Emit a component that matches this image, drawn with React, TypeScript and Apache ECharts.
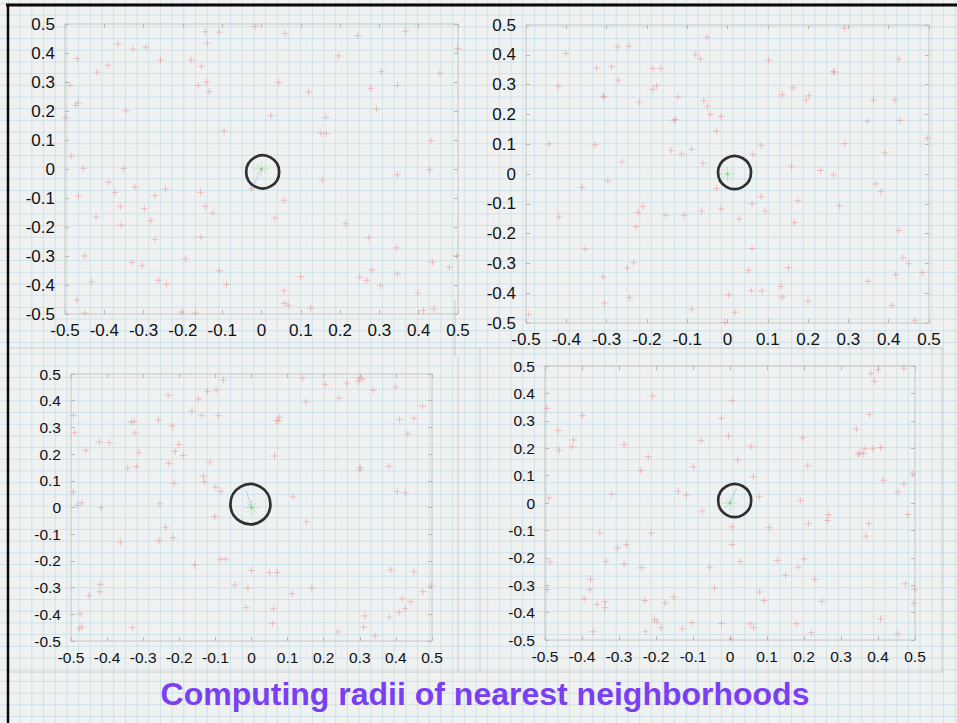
import React, { useEffect, useRef } from "react";
import * as echarts from "echarts";

// ---------- data ----------
const tickValues = [-0.5, -0.4, -0.3, -0.2, -0.1, 0, 0.1, 0.2, 0.3, 0.4, 0.5];
const titleText = "Computing radii of nearest neighborhoods";

const panel1Points: number[][] = [
  [-0.143, 0.473], [-0.108, 0.472], [-0.016, 0.492], [0.06, 0.467], [0.245, 0.46], [0.367, 0.475],
  [0.499, 0.415], [-0.138, 0.434], [-0.365, 0.432], [-0.327, 0.414], [-0.294, 0.42], [-0.468, 0.381],
  [-0.257, 0.376], [-0.179, 0.376], [0.196, 0.39], [-0.419, 0.334], [-0.39, 0.358], [-0.153, 0.354],
  [-0.14, 0.3], [-0.161, 0.288], [-0.133, 0.267], [0.044, 0.299], [0.12, 0.266], [0.305, 0.336],
  [0.278, 0.278], [0.346, 0.288], [0.454, 0.33], [-0.487, 0.288], [-0.473, 0.219], [-0.467, 0.228],
  [-0.345, 0.201], [-0.498, 0.177], [0.293, 0.207], [0.024, 0.184], [0.164, 0.178], [0.151, 0.124],
  [0.165, 0.122], [-0.095, 0.131], [0.431, 0.098], [-0.484, 0.044], [-0.454, 0.002], [-0.351, 0.002],
  [0.428, -0.002], [0.346, -0.02], [0.155, -0.038], [-0.389, -0.045], [-0.373, -0.081], [-0.466, -0.094],
  [-0.322, -0.062], [-0.244, -0.069], [-0.271, -0.091], [-0.155, -0.081], [-0.025, -0.068], [0.058, -0.108],
  [-0.359, -0.129], [-0.298, -0.137], [-0.143, -0.129], [-0.124, -0.152], [-0.421, -0.165], [-0.357, -0.193],
  [-0.282, -0.178], [0.034, -0.169], [0.214, -0.189], [-0.271, -0.243], [-0.154, -0.235], [0.273, -0.237],
  [0.344, -0.272], [-0.45, -0.3], [-0.193, -0.31], [0.497, -0.299], [-0.329, -0.322], [-0.303, -0.333],
  [0.435, -0.321], [0.478, -0.339], [-0.107, -0.351], [0.281, -0.348], [0.346, -0.362], [0.1, -0.371],
  [0.25, -0.373], [0.267, -0.384], [-0.432, -0.389], [-0.262, -0.384], [-0.242, -0.397], [-0.089, -0.398],
  [0.303, -0.402], [0.058, -0.42], [0.398, -0.428], [-0.47, -0.452], [0.058, -0.463], [0.068, -0.47],
  [0.125, -0.48], [0.412, -0.488], [0.439, -0.483], [-0.449, -0.497], [-0.204, -0.493], [-0.168, -0.497],
];

const panel2Points: number[][] = [
  [-0.051, 0.459], [0.29, 0.489], [-0.401, 0.404], [-0.272, 0.426], [-0.244, 0.429], [-0.079, 0.4],
  [-0.067, 0.386], [0.102, 0.382], [0.425, 0.386], [-0.325, 0.356], [-0.288, 0.36], [-0.185, 0.354],
  [-0.165, 0.354], [0.263, 0.344], [0.265, 0.341], [-0.271, 0.315], [-0.42, 0.295], [-0.308, 0.261],
  [-0.307, 0.258], [-0.185, 0.284], [-0.176, 0.296], [-0.123, 0.259], [-0.219, 0.241], [-0.059, 0.246],
  [-0.05, 0.227], [0.163, 0.289], [0.136, 0.266], [0.195, 0.248], [0.202, 0.263], [0.362, 0.248],
  [0.415, 0.249], [-0.043, 0.2], [-0.016, 0.193], [-0.133, 0.18], [-0.129, 0.183], [0.347, 0.177],
  [0.428, 0.179], [-0.027, 0.144], [-0.442, 0.101], [-0.329, 0.098], [0.083, 0.096], [0.291, 0.102],
  [-0.14, 0.079], [-0.089, 0.083], [-0.114, 0.067], [0.063, 0.066], [0.391, 0.071], [-0.262, 0.04],
  [-0.061, 0.036], [0.159, 0.026], [0.231, 0.012], [0.263, -0.003], [-0.297, -0.023], [-0.361, -0.045],
  [-0.027, -0.049], [0.368, -0.033], [0.381, -0.059], [-0.21, -0.109], [0.061, -0.1], [0.083, -0.076],
  [0.175, -0.089], [0.278, -0.107], [-0.222, -0.129], [-0.153, -0.139], [-0.108, -0.139], [-0.064, -0.124],
  [-0.016, -0.117], [0.094, -0.124], [0.029, -0.151], [-0.418, -0.144], [0.166, -0.163], [-0.227, -0.177],
  [0.425, -0.189], [-0.353, -0.251], [0.061, -0.25], [0.435, -0.282], [0.45, -0.301], [-0.233, -0.298],
  [-0.249, -0.315], [0.052, -0.323], [0.151, -0.314], [0.484, -0.331], [0.417, -0.338], [-0.309, -0.345],
  [0.349, -0.36], [0.133, -0.377], [0.059, -0.392], [0.086, -0.393], [0.003, -0.405], [0.137, -0.413],
  [-0.243, -0.415], [-0.305, -0.433], [0.2, -0.427], [0.409, -0.441], [-0.089, -0.454], [0.019, -0.464],
  [-0.493, -0.471], [-0.006, -0.498], [0.465, -0.491], [0.496, 0.12],
];

const panel3Points: number[][] = [
  [-0.078, 0.478], [0.142, 0.485], [0.3, 0.485], [0.308, 0.481], [0.296, 0.473], [0.204, 0.461],
  [0.264, 0.466], [0.4, 0.451], [0.337, 0.439], [-0.098, 0.44], [-0.122, 0.435], [-0.231, 0.42],
  [-0.147, 0.406], [0.243, 0.41], [0.151, 0.395], [0.473, 0.38], [-0.165, 0.361], [-0.138, 0.345],
  [-0.092, 0.344], [0.078, 0.338], [0.069, 0.326], [0.075, 0.324], [0.45, 0.334], [0.41, 0.33],
  [-0.493, 0.345], [-0.258, 0.328], [-0.333, 0.32], [-0.325, 0.322], [-0.219, 0.305], [-0.49, 0.28],
  [-0.323, 0.279], [0.433, 0.276], [-0.422, 0.246], [-0.394, 0.243], [-0.201, 0.236], [-0.459, 0.214],
  [-0.312, 0.205], [-0.211, 0.211], [-0.189, 0.195], [0.064, 0.193], [-0.229, 0.166], [-0.115, 0.17],
  [-0.343, 0.148], [-0.319, 0.153], [0.301, 0.149], [0.3, 0.141], [0.381, 0.154], [-0.133, 0.118],
  [-0.131, 0.096], [-0.214, 0.091], [-0.099, 0.076], [-0.085, 0.061], [0.115, 0.04], [0.404, 0.06],
  [0.427, 0.055], [-0.494, 0.058], [-0.482, 0.008], [-0.47, 0.018], [-0.416, 0.0], [-0.254, 0.014],
  [-0.102, -0.034], [0.152, -0.054], [-0.238, -0.074], [-0.217, -0.113], [-0.256, -0.124], [-0.363, -0.13],
  [-0.086, -0.194], [-0.071, -0.193], [-0.157, -0.215], [0.0, -0.236], [0.05, -0.244], [0.071, -0.244],
  [0.386, -0.234], [0.45, -0.241], [-0.419, -0.288], [-0.421, -0.316], [-0.45, -0.33], [-0.046, -0.291],
  [-0.01, -0.303], [0.167, -0.303], [0.113, -0.323], [0.498, -0.293], [0.475, -0.315], [0.417, -0.341],
  [0.441, -0.353], [0.426, -0.379], [-0.015, -0.375], [0.061, -0.379], [-0.475, -0.398], [0.409, -0.393],
  [0.314, -0.406], [0.382, -0.411], [0.058, -0.435], [-0.33, -0.45], [-0.47, -0.446], [-0.476, -0.454],
  [0.31, -0.448], [0.24, -0.466], [0.342, -0.481],
];

const panel4Points: number[][] = [
  [0.47, 0.492], [0.4, 0.485], [0.381, 0.473], [0.391, 0.444], [-0.209, 0.39], [0.006, 0.373],
  [0.377, 0.323], [-0.495, 0.345], [-0.399, 0.319], [-0.023, 0.309], [-0.465, 0.265], [0.342, 0.27],
  [-0.004, 0.244], [0.196, 0.238], [-0.078, 0.228], [-0.423, 0.23], [-0.427, 0.205], [-0.286, 0.213],
  [0.057, 0.207], [0.365, 0.198], [0.386, 0.198], [0.407, 0.202], [-0.461, 0.193], [0.347, 0.177],
  [0.361, 0.18], [0.35, 0.183], [-0.221, 0.169], [0.021, 0.157], [0.21, 0.136], [-0.241, 0.119],
  [-0.099, 0.132], [0.063, 0.096], [0.414, 0.083], [0.494, 0.108], [0.47, 0.07], [0.454, 0.04],
  [-0.32, 0.032], [-0.14, 0.043], [-0.118, 0.029], [0.079, 0.023], [-0.489, 0.018], [0.19, 0.009],
  [-0.075, -0.029], [0.266, -0.043], [0.263, -0.064], [0.48, -0.042], [0.006, -0.087], [0.106, -0.09],
  [0.212, -0.075], [0.375, -0.075], [0.368, -0.121], [-0.352, -0.109], [-0.213, -0.11], [0.006, -0.152],
  [-0.28, -0.152], [-0.304, -0.164], [-0.486, -0.215], [-0.335, -0.214], [-0.286, -0.222], [0.028, -0.214],
  [0.128, -0.21], [0.2, -0.204], [-0.238, -0.236], [-0.055, -0.234], [0.184, -0.234], [0.15, -0.264],
  [0.229, -0.279], [-0.377, -0.278], [0.474, -0.295], [-0.493, -0.316], [-0.379, -0.316], [-0.042, -0.311],
  [0.499, -0.316], [0.08, -0.325], [-0.394, -0.35], [-0.23, -0.356], [0.092, -0.356], [-0.152, -0.343],
  [-0.338, -0.361], [0.248, -0.359], [-0.359, -0.371], [-0.176, -0.365], [-0.338, -0.382], [0.496, -0.366],
  [0.407, -0.423], [-0.204, -0.425], [-0.198, -0.434], [-0.103, -0.437], [-0.023, -0.44], [0.055, -0.441],
  [0.064, -0.455], [0.18, -0.441], [-0.186, -0.455], [-0.129, -0.459], [-0.37, -0.47], [-0.228, -0.47],
  [0.22, -0.473], [0.454, -0.478], [0.003, -0.496],
];

const queryPoint: number[] = [0, 0];
const circleCenters: number[][] = [[0.003, -0.01], [0.0175, 0.005], [-0.003, 0.0125], [0.0127, 0.009]];
const neighborLinks: (number[] | null)[] = [[-0.025, -0.068], null, [-0.016, 0.069], [0.017, 0.053]];

// ---------- layout ----------
const panels = [
  { left: 65, top: 24, width: 393, height: 290, fontSize: 17, ring: 33 },
  { left: 526, top: 25, width: 403, height: 298, fontSize: 17, ring: 33 },
  { left: 71, top: 374, width: 361, height: 267, fontSize: 15.5, ring: 40 },
  { left: 545, top: 366, width: 370, height: 274, fontSize: 15.5, ring: 33 },
];
const panelPoints = [panel1Points, panel2Points, panel3Points, panel4Points];

const PLUS = "path://M0,-10L0,10M-10,0L10,0";
const STAR = "path://M0,-10L0,10M-10,0L10,0M-7,-7L7,7M-7,7L7,-7";
const FONT = "Liberation Sans, Arial, Helvetica, sans-serif";

const fmt = (v: number) => {
  const r = Math.round(v * 10) / 10;
  return r === 0 ? "0" : String(r);
};

function buildOption() {
  const grid: any[] = [];
  const xAxis: any[] = [];
  const yAxis: any[] = [];
  const series: any[] = [];
  const tickStyle = { show: true, inside: true, length: 4, lineStyle: { color: "#b8b8b8", width: 1 } };

  panels.forEach((p, i) => {
    grid.push({
      left: p.left, top: p.top, width: p.width, height: p.height,
      show: true, borderColor: "#c4c4c4", borderWidth: 1, backgroundColor: "transparent",
    });
    const base = {
      gridIndex: i, type: "value", min: tickValues[0], max: tickValues[tickValues.length - 1], interval: 0.1,
      splitLine: { show: false }, axisLine: { show: false, onZero: false }, axisTick: tickStyle,
    };
    xAxis.push({
      ...base, position: "bottom",
      axisLabel: { show: true, margin: 8, fontSize: p.fontSize, color: "#111", fontFamily: FONT, formatter: fmt },
    });
    xAxis.push({ ...base, position: "top", axisLabel: { show: false } });
    yAxis.push({
      ...base, position: "left",
      axisLabel: { show: true, margin: 10, fontSize: p.fontSize, color: "#111", fontFamily: FONT, formatter: fmt },
    });
    yAxis.push({ ...base, position: "right", axisLabel: { show: false } });

    const xi = i * 2;
    series.push({
      type: "scatter", xAxisIndex: xi, yAxisIndex: xi, silent: true,
      symbol: PLUS, symbolSize: 7, data: panelPoints[i],
      itemStyle: { color: "rgba(0,0,0,0)", borderColor: "rgba(232,110,110,0.45)", borderWidth: 1 },
    });
    const nn = neighborLinks[i];
    if (nn) {
      series.push({
        type: "line", xAxisIndex: xi, yAxisIndex: xi, silent: true, symbol: "none",
        data: [queryPoint, nn],
        lineStyle: { type: "dotted", color: "rgba(90,130,220,0.5)", width: 1.2 },
      });
    }
    series.push({
      type: "scatter", xAxisIndex: xi, yAxisIndex: xi, silent: true,
      symbol: STAR, symbolSize: 15, data: [queryPoint],
      itemStyle: { color: "rgba(0,0,0,0)", borderColor: "rgba(120,220,120,0.55)", borderWidth: 1 },
    });
    series.push({
      type: "scatter", xAxisIndex: xi, yAxisIndex: xi, silent: true,
      symbol: "circle", symbolSize: 2.5, data: [queryPoint],
      itemStyle: { color: "rgba(80,190,80,0.5)" },
    });
    series.push({
      type: "scatter", xAxisIndex: xi, yAxisIndex: xi, silent: true,
      symbol: "circle", symbolSize: p.ring, data: [circleCenters[i]],
      itemStyle: { color: "rgba(0,0,0,0)", borderColor: "#000", borderWidth: 2.7 },
    });
  });

  const frame = "rgba(140,140,140,0.35)";
  const ln = (x1: number, y1: number, x2: number, y2: number, stroke: string, w: number) => ({
    type: "line", silent: true, shape: { x1, y1, x2, y2 }, style: { stroke, lineWidth: w },
  });
  const graphic: any[] = [
    ln(10, 348, 943, 348, frame, 1),
    ln(455, 300, 455, 357, frame, 1),
    ln(480, 348, 480, 672, frame, 1),
    ln(942, 348, 942, 672, frame, 1),
    ln(458, 357, 458, 672, frame, 1),
    ln(10, 672, 943, 672, frame, 1),
    ln(6, 5, 957, 5, "#0a0a0a", 3),
    ln(8, 4, 8, 723, "#0a0a0a", 2.5),
    {
      type: "text", x: 485, y: 694, silent: true, z: 100,
      style: {
        text: titleText, align: "center", verticalAlign: "middle",
        fill: "#7a3ff2", fontSize: 32, fontWeight: "bold", fontFamily: FONT,
      },
    },
  ];

  return { animation: false, backgroundColor: "transparent", grid, xAxis, yAxis, series, graphic };
}

export default function App() {
  const ref = useRef<HTMLDivElement>(null);
  useEffect(() => {
    if (!ref.current) return;
    const chart = echarts.init(ref.current, undefined, { renderer: "svg" });
    chart.setOption(buildOption() as any);
    return () => chart.dispose();
  }, []);
  return (
    <div
      style={{
        position: "absolute", left: 0, top: 0, width: 957, height: 723, overflow: "hidden",
        backgroundColor: "#f0f1f1",
        backgroundImage:
          "linear-gradient(to right, rgba(120,185,215,0.27) 1px, transparent 1px), linear-gradient(to bottom, rgba(120,185,215,0.27) 1px, transparent 1px)",
        backgroundSize: "11.7px 11.7px",
        backgroundPosition: "8px 3px",
      }}
    >
      <div ref={ref} style={{ width: 957, height: 723 }} />
    </div>
  );
}
